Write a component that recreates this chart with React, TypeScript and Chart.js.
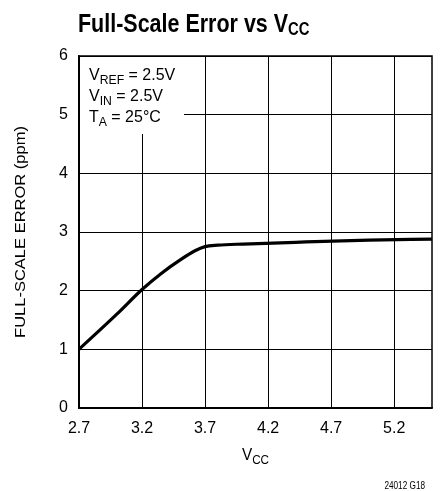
import React, { useEffect, useRef } from "react";
import { Chart, registerables } from "chart.js";

Chart.register(...registerables);

const vccValues = [2.7, 3.0, 3.2, 3.35, 3.5, 3.62, 3.7, 3.8, 4.0, 4.5, 5.0, 5.5];
const errorValues = [1.0, 1.6, 2.02, 2.29, 2.52, 2.68, 2.75, 2.775, 2.795, 2.83, 2.86, 2.88];
const xTickValues = [2.7, 3.2, 3.7, 4.2, 4.7, 5.2];
const xTickLabels = ["2.7", "3.2", "3.7", "4.2", "4.7", "5.2"];
const yTickValues = [0, 1, 2, 3, 4, 5, 6];
const conditionLines: [string, string, string][] = [
  ["V", "REF", " = 2.5V"],
  ["V", "IN", " = 2.5V"],
  ["T", "A", " = 25°C"],
];

const FONT = '"Liberation Sans", Arial, sans-serif';

function drawSub(
  ctx: CanvasRenderingContext2D,
  parts: [string, string, string],
  x: number,
  y: number,
  size: number,
  subSize: number,
  weight: string,
  subDrop: number,
  sx: number,
  align: "left" | "center" = "left"
) {
  const f1 = `${weight} ${size}px ${FONT}`;
  const f2 = `${weight} ${subSize}px ${FONT}`;
  ctx.font = f1;
  const a = ctx.measureText(parts[0]).width;
  const c = ctx.measureText(parts[2]).width;
  ctx.font = f2;
  const b = ctx.measureText(parts[1]).width;
  const total = a + b + c;
  ctx.save();
  ctx.translate(x, y);
  ctx.scale(sx, 1);
  if (align === "center") ctx.translate(-total / 2, 0);
  ctx.textAlign = "left";
  ctx.textBaseline = "alphabetic";
  ctx.font = f1;
  ctx.fillText(parts[0], 0, 0);
  ctx.font = f2;
  ctx.fillText(parts[1], a, subDrop);
  ctx.font = f1;
  ctx.fillText(parts[2], a + b, 0);
  ctx.restore();
}

const decorPlugin = {
  id: "decor",
  afterDatasetsDraw(chart: any) {
    const { ctx, chartArea } = chart;
    const { left, right, top, bottom } = chartArea;
    ctx.save();
    ctx.strokeStyle = "#000";
    ctx.lineWidth = 1.5;
    ctx.strokeRect(left, top, right - left, bottom - top);
    ctx.fillStyle = "#fff";
    ctx.fillRect(left + 1, top + 1, 104, 77);
    ctx.fillStyle = "#000";
    conditionLines.forEach((l, i) => {
      drawSub(ctx, l, left + 10, top + 24 + i * 21, 17, 13, "normal", 4, 0.94);
    });
    ctx.restore();
  },
  afterDraw(chart: any) {
    const { ctx, chartArea } = chart;
    const { left, right, top, bottom } = chartArea;
    ctx.save();
    ctx.fillStyle = "#000";
    drawSub(ctx, ["Full-Scale Error vs V", "CC", ""], 78, 32, 26, 18, "bold", 3, 0.826);
    drawSub(ctx, ["V", "CC", ""], (left + right) / 2, 460, 17, 13, "normal", 4, 0.9, "center");
    ctx.save();
    ctx.translate(21, (top + bottom) / 2);
    ctx.rotate(-Math.PI / 2);
    ctx.font = `normal 16.5px ${FONT}`;
    ctx.textAlign = "center";
    ctx.textBaseline = "middle";
    ctx.scale(1, 0.9);
    ctx.fillText("FULL-SCALE ERROR (ppm)", 0, 0);
    ctx.restore();
    ctx.save();
    ctx.translate(425, 489);
    ctx.scale(0.82, 1);
    ctx.font = `normal 10px ${FONT}`;
    ctx.textAlign = "right";
    ctx.textBaseline = "alphabetic";
    ctx.fillText("24012 G18", 0, 0);
    ctx.restore();
    ctx.restore();
  },
};

export default function App() {
  const ref = useRef<HTMLCanvasElement | null>(null);
  useEffect(() => {
    document.body.style.margin = "0";
    const canvas = ref.current;
    if (!canvas) return;
    const chart = new Chart(canvas, {
      type: "line",
      data: {
        datasets: [
          {
            data: vccValues.map((v, i) => ({ x: v, y: errorValues[i] })),
            borderColor: "#000",
            borderWidth: 3.2,
            pointRadius: 0,
            cubicInterpolationMode: "monotone",
            fill: false,
          },
        ],
      },
      options: {
        animation: false,
        responsive: false,
        devicePixelRatio: 1,
        layout: { padding: { top: 56, right: 9, left: 0, bottom: 0 } },
        plugins: { legend: { display: false }, tooltip: { enabled: false }, title: { display: false } },
        scales: {
          x: {
            type: "linear",
            min: 2.7,
            max: 5.5,
            afterBuildTicks: (s: any) => {
              s.ticks = xTickValues.map((v) => ({ value: v }));
            },
            afterFit: (s: any) => {
              s.height = 83;
            },
            ticks: {
              callback: (v: any) => {
                const i = xTickValues.findIndex((t) => Math.abs(t - Number(v)) < 1e-6);
                return i >= 0 ? xTickLabels[i] : "";
              },
              color: "#000",
              font: { family: FONT, size: 16 },
              padding: 11,
              maxRotation: 0,
              autoSkip: false,
            },
            grid: { color: "#000", lineWidth: 1, drawTicks: false },
            border: { color: "#000", width: 1.5 },
          },
          y: {
            type: "linear",
            min: 0,
            max: 6,
            afterBuildTicks: (s: any) => {
              s.ticks = yTickValues.map((v) => ({ value: v }));
            },
            afterFit: (s: any) => {
              s.width = 79;
            },
            ticks: {
              color: "#000",
              font: { family: FONT, size: 16 },
              padding: 11,
            },
            grid: { color: "#000", lineWidth: 1, drawTicks: false },
            border: { color: "#000", width: 1.5 },
          },
        },
      },
      plugins: [decorPlugin],
    } as any);
    return () => chart.destroy();
  }, []);
  return <canvas ref={ref} width={441} height={491} style={{ display: "block" }} />;
}
